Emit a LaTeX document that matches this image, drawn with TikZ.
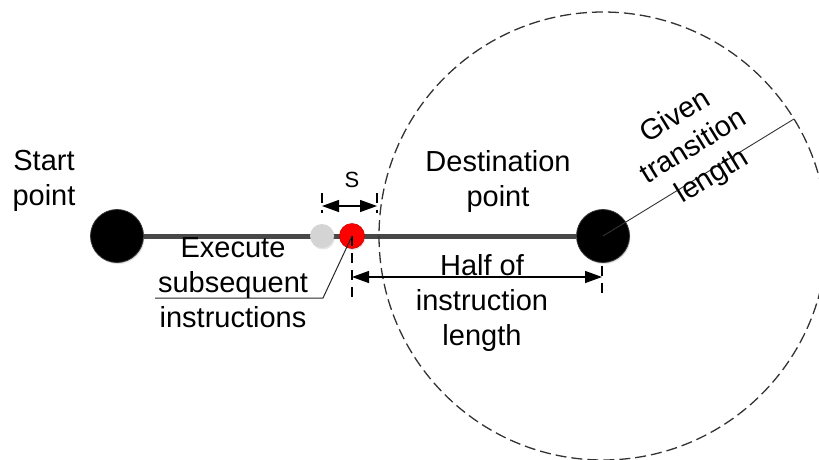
\documentclass[tikz,border=0pt]{standalone}
\usepackage{fontspec}
\setmainfont{Liberation Sans}
\usetikzlibrary{arrows.meta,shadows}

\definecolor{pathgray}{RGB}{72,72,72}
\definecolor{dotgray}{RGB}{212,212,212}
\definecolor{dotred}{RGB}{255,0,0}

\tikzset{
  lbl/.style={align=center, inner sep=0pt, font=\fontsize{29}{35}\selectfont},
  blackdot/.style={circle, fill=black, draw=black!80, line width=0.8pt, minimum size=53pt, inner sep=0pt,
    drop shadow={opacity=0.25, shadow xshift=1pt, shadow yshift=-1.5pt}},
  graydot/.style={circle, fill=dotgray, minimum size=24pt, inner sep=0pt,
    drop shadow={opacity=0.2, shadow xshift=1pt, shadow yshift=-1.5pt}},
  reddot/.style={circle, fill=dotred, draw=red!80!black, line width=0.6pt, minimum size=25pt, inner sep=0pt,
    drop shadow={opacity=0.2, shadow xshift=1pt, shadow yshift=-1.5pt}},
  dimline/.style={line width=1.3pt, {Triangle[length=17pt,width=12pt]}-{Triangle[length=17pt,width=12pt]}},
  extline/.style={line width=1.3pt, dash pattern=on 10pt off 7pt},
  rangecircle/.style={line width=1.3pt, draw=black!80, dash pattern=on 11pt off 5pt},
  leader/.style={line width=1pt, draw=black!85},
}

\begin{document}
\begin{tikzpicture}[x=1pt, y=-1pt]
  \useasboundingbox (0,0) rectangle (819,459);

  % end points of the instruction
  \node[blackdot] (start) at (117,236) {};
  \node[blackdot] (dest) at (603,236) {};

  % instruction path
  \draw[pathgray, line width=5pt] (start) -- (dest);

  % previous and current positions
  \node[graydot] (prev) at (322,236) {};
  \node[reddot] (cur) at (352,236) {};

  % transition range around the destination
  \draw[rangecircle] (dest.center) circle[radius=224pt];
  \path (dest.center) ++(31.5:224pt) coordinate (rim);
  \draw[line width=0.9pt, black!80] (dest.center) -- (rim);

  % distance S
  \coordinate (sLtop) at (322,193);
  \coordinate (sL) at (322,206);
  \coordinate (sLbot) at (322,213);
  \coordinate (sRtop) at (377,193);
  \coordinate (sR) at (377,206);
  \coordinate (sRbot) at (377,213);
  \draw[extline] (sLtop) -- (sLbot);
  \draw[extline] (sRtop) -- (sRbot);
  \draw[dimline] (sL) -- (sR);
  \node[font=\fontsize{22}{26}\selectfont, inner sep=0pt] (slabel) at (352,180) {S};

  % half of the instruction length
  \coordinate (hLbot) at (352,298);
  \coordinate (hL) at (352,277);
  \coordinate (hRtop) at (602,266);
  \coordinate (hR) at (602,277);
  \coordinate (hRbot) at (602,298);
  \draw[extline] (cur.center) -- (hLbot);
  \draw[extline] (hRtop) -- (hRbot);
  \draw[dimline] (hL) -- (hR);

  % leader to the current position
  \coordinate (bend) at (323,298);
  \coordinate (tail) at (155,298);
  \draw[leader] (cur.center) -- (bend) -- (tail);

  % labels
  \node[lbl] (startlbl) at (44,181) {Start\\point};
  \node[lbl] (destlbl) at (498,181) {Destination\\point};
  \node[lbl] (execlbl) at (233,283) {Execute\\subsequent\\instructions};
  \node[lbl] (halflbl) at (482,303) {Half of\\instruction\\length};
  \node[lbl, rotate=31.5] (givenlbl) at (694,147) {Given\\transition\\length};
\end{tikzpicture}
\end{document}
